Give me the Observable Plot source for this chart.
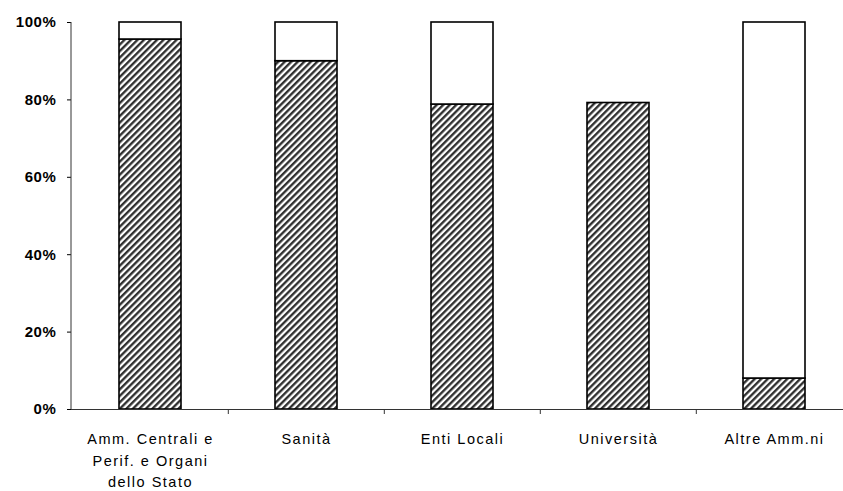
<!DOCTYPE html>
<html>
<head>
<meta charset="utf-8">
<script src="https://cdn.jsdelivr.net/npm/d3@7"></script>
<script src="https://cdn.jsdelivr.net/npm/@observablehq/plot@0.6"></script>
<style>
  html, body { margin: 0; padding: 0; background: #fff; }
  svg { display: block; }
</style>
</head>
<body>
<div id="chart"></div>
<script>
const categories = ["Amm. Centrali e\nPerif. e Organi\ndello Stato", "Sanità", "Enti Locali", "Università", "Altre Amm.ni"];
const shareValues = [95.6, 90.0, 78.8, 79.2, 8.0];
const restValues = [4.4, 10.0, 21.2, 0, 92.0];
const yTicks = [0, 20, 40, 60, 80, 100];
const seriesNames = ["share", "rest"];

const data = [];
categories.forEach((c, i) => {
  data.push({cat: c, series: "share", value: shareValues[i]});
  if (restValues[i] > 0) data.push({cat: c, series: "rest", value: restValues[i]});
});

const chart = Plot.plot({
  width: 843,
  height: 491,
  marginLeft: 71,
  marginRight: 0,
  marginTop: 22,
  marginBottom: 82,
  style: {fontFamily: "'Liberation Sans', Arial, sans-serif", background: "#fff", color: "#000"},
  x: {domain: categories, range: [71, 853], padding: 0},
  y: {domain: [0, 100]},
  color: {domain: seriesNames, range: ["url(#hatch)", "#ffffff"]},
  marks: [
    Plot.barY(data, Plot.stackY({x: "cat", y: "value", fill: "series", order: seriesNames,
      stroke: "#000", strokeWidth: 1.6, insetLeft: 47, insetRight: 47})),
    Plot.ruleY([0], {stroke: "#333", strokeWidth: 1}),
    Plot.ruleX(categories.slice(1), {x: d => d, y1: 0, y2: 0, dx: -78.2, insetBottom: -5, stroke: "#333", strokeWidth: 1}),
    Plot.axisY({ticks: yTicks, tickFormat: d => d + "%", tickSize: 4, tickPadding: 11,
      fontSize: 15, fontWeight: "bold", label: null}),
    Plot.axisX({tickSize: 0, tickPadding: 19, fontSize: 14.5, lineHeight: 1.5, label: null})
  ]
});

// hatch pattern
const svg = d3.select(chart);
const defs = svg.insert("defs", ":first-child");
const pat = defs.append("pattern")
  .attr("id", "hatch")
  .attr("patternUnits", "userSpaceOnUse")
  .attr("width", 4.6).attr("height", 4.6)
  .attr("patternTransform", "rotate(45)");
pat.append("rect").attr("width", 4.6).attr("height", 4.6).attr("fill", "#fff");
pat.append("line").attr("x1", 1.2).attr("y1", 0).attr("x2", 1.2).attr("y2", 4.6)
  .attr("stroke", "#2a2a2a").attr("stroke-width", 2.3);

// y axis line
const ys = chart.scale("y");
svg.append("line")
  .attr("x1", 71).attr("x2", 71)
  .attr("y1", ys.apply(0)).attr("y2", ys.apply(100))
  .attr("stroke", "#333").attr("stroke-width", 1);

svg.selectAll("g[aria-label='y-axis tick label'] text, g[aria-label='y-axis tick label']").attr("letter-spacing", "0.6");
svg.selectAll("g[aria-label='x-axis tick label']").attr("letter-spacing", "1.5");

document.getElementById("chart").appendChild(chart);
</script>
</body>
</html>
